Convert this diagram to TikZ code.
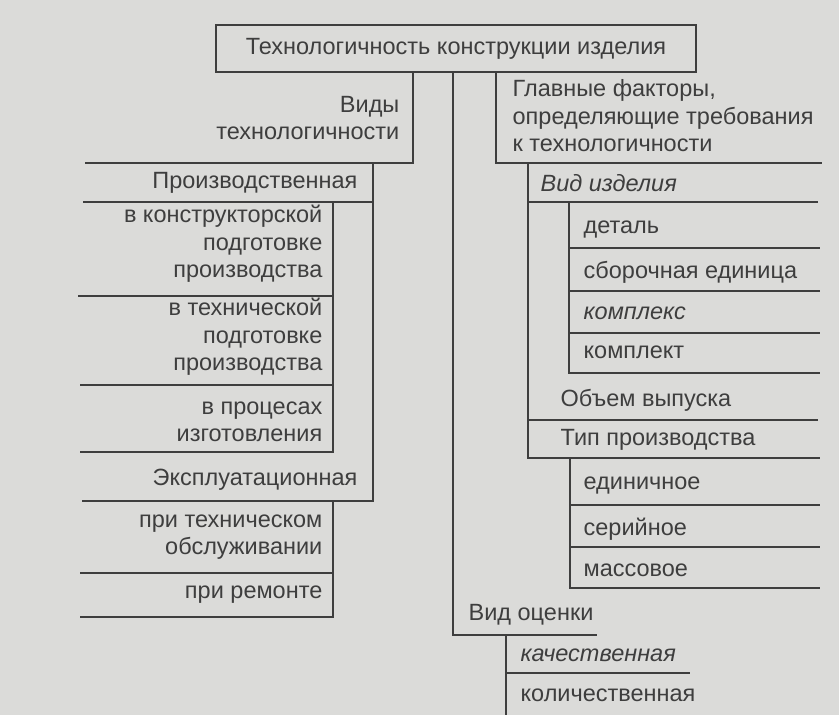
\documentclass[tikz,border=0pt]{standalone}
\usepackage{fontspec}
\setmainfont{Liberation Sans}
\usetikzlibrary{positioning,calc}
\definecolor{paper}{RGB}{219,219,217}
\definecolor{ink}{RGB}{62,62,62}
\newcommand{\diagfont}{\fontsize{23.5}{27.5}\selectfont}
\tikzset{font=\diagfont}

\begin{document}
\begin{tikzpicture}[x=1pt, y=-1pt]
	\fill[paper] (0,0) rectangle (839,715);
	\useasboundingbox (0,0) rectangle (839,715);
	\begin{scope}[ink, line width=1.3pt]
		\tikzstyle{every node}=[text=ink, inner sep=0pt]
		\tikzstyle{lt}=[anchor=east, align=right]
		\tikzstyle{rt}=[anchor=west, align=left]
		\tikzstyle{it}=[font=\diagfont\itshape]

		\node[draw, minimum width=480, minimum height=47] (tech) at (456,48.5) {Технологичность конструкции изделия};

		\node[lt] (vidy) at (400,118) {Виды\\технологичности};
		\node[rt] (fakt) at (512,116) {Главные факторы,\\определяющие требования\\к технологичности};

		\node[lt] (proizv) at (358,183) {Производственная};
		\node[lt] (konstr) at (323,244) {в конструкторской\\подготовке\\производства};
		\node[lt] (tehn) at (323,337) {в технической\\подготовке\\производства};
		\node[lt] (izgot) at (323,422) {в процесах\\изготовления};
		\node[lt] (ekspl) at (358,480) {Эксплуатационная};
		\node[lt] (obsl) at (323,537) {при техническом\\обслуживании};
		\node[lt] (remont) at (323,595) {при ремонте};

		\node[rt, it] (vidizd) at (540,183) {Вид изделия};
		\node[rt] (detal) at (583,230) {деталь};
		\node[rt] (sbor) at (583,272) {сборочная единица};
		\node[rt, it] (kompleks) at (583,313) {комплекс};
		\node[rt] (komplekt) at (583,352) {комплект};
		\node[rt] (obem) at (560,400) {Объем выпуска};
		\node[rt] (tip) at (560,440) {Тип производства};
		\node[rt] (edin) at (583,486) {единичное};
		\node[rt] (ser) at (583,529) {серийное};
		\node[rt] (mass) at (583,570) {массовое};

		\node[rt] (ocenka) at (468,615) {Вид оценки};
		\node[rt, it] (kach) at (520,655) {качественная};
		\node[rt] (kol) at (520,695) {количественная};

		\coordinate (s0) at (453,635);
		\coordinate (sL) at (413,163);
		\coordinate (sR) at (496,163);
		\coordinate (s1) at (373,501);
		\coordinate (s2) at (333,452);
		\coordinate (s3) at (333,617);
		\coordinate (s4) at (528,458);
		\coordinate (s5) at (569,373);
		\coordinate (s6) at (570,588);

		\draw (tech.south -| s0) -- (s0) -- (597,635);
		\draw (tech.south -| sL) -- (sL) -- (85,163);
		\draw (tech.south -| sR) -- (sR) -- (822,163);

		\draw (sL -| s1) -- (s1) -- (82,501);
		\draw (83,202) -- (373,202);
		\draw (333,202) -- (s2) -- (80,452);
		\draw (78,296) -- (333,296);
		\draw (80,385) -- (333,385);
		\draw (s1 -| s3) -- (s3) -- (80,617);
		\draw (80,573) -- (333,573);

		\draw (sR -| s4) -- (s4) -- (820,458);
		\draw (528,202) -- (818,202);
		\draw (528,420) -- (818,420);
		\draw (569,202) -- (s5) -- (820,373);
		\foreach \y in {248,291,333}
			\draw (569,\y) -- (820,\y);
		\draw (s4 -| s6) -- (s6) -- (820,588);
		\foreach \y in {505,547}
			\draw (570,\y) -- (820,\y);

		\draw (506,635) -- (506,715);
		\draw (506,673) -- (690,673);
	\end{scope}
\end{tikzpicture}
\end{document}
